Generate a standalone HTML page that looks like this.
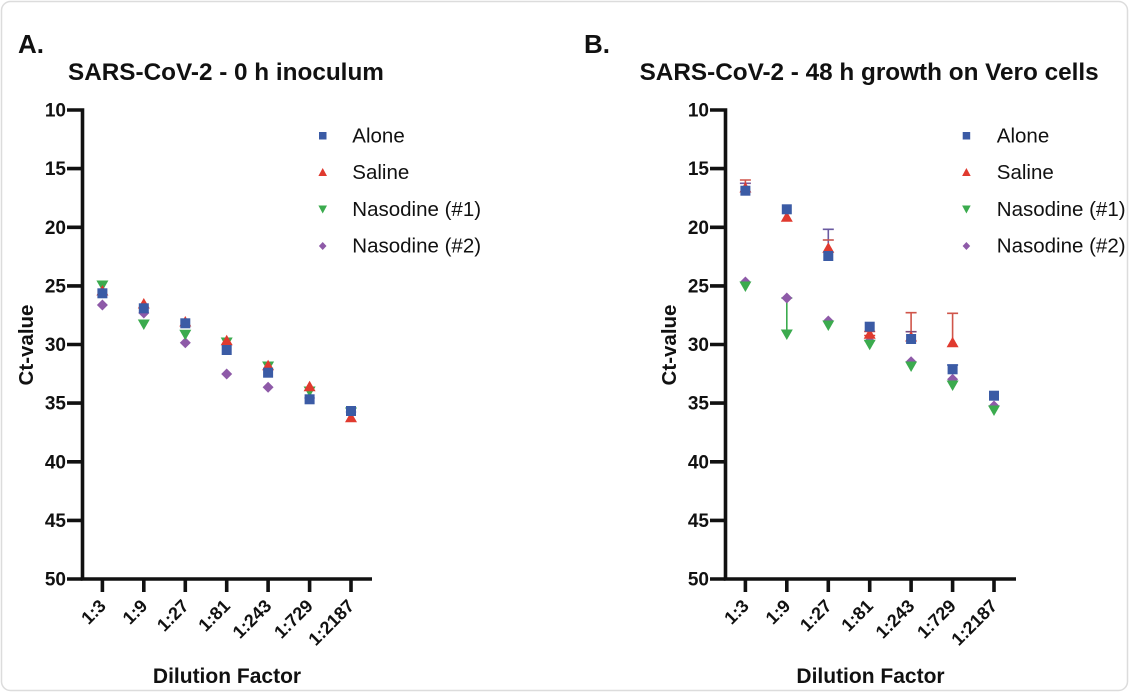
<!DOCTYPE html>
<html>
<head>
<meta charset="utf-8">
<style>
html,body{margin:0;padding:0;background:#fff;}
svg{display:block;}
text{font-family:"Liberation Sans",Arial,sans-serif;fill:#111;}
.b{font-weight:bold;}
</style>
</head>
<body>
<svg width="1130" height="693" viewBox="0 0 1130 693" xmlns="http://www.w3.org/2000/svg">
<rect x="1.5" y="1.5" width="1126" height="689" rx="9" ry="9" fill="#fff" stroke="#dcdcdc" stroke-width="1.5"/>

<!-- ===== Panel A ===== -->
<text class="b" x="18" y="53" font-size="26">A.</text>
<text class="b" x="68" y="80" font-size="24.3">SARS-CoV-2 - 0 h inoculum</text>

<g stroke="#111" stroke-width="3.6" fill="none" stroke-linecap="butt">
  <path d="M67 110 H84.3 M82.5 110 V580.8 M82.5 579 H372"/>
  <path d="M67 168.6 H82.5 M67 227.3 H82.5 M67 285.9 H82.5 M67 344.5 H82.5 M67 403.1 H82.5 M67 461.8 H82.5 M67 520.4 H82.5 M67 579 H82.5"/>
  <path d="M102.4 579 V592 M143.8 579 V592 M185.3 579 V592 M226.7 579 V592 M268.1 579 V592 M309.6 579 V592 M351 579 V592"/>
</g>
<g class="b" font-size="19" text-anchor="end">
  <text class="b" x="66" y="116.5">10</text>
  <text class="b" x="66" y="175.1">15</text>
  <text class="b" x="66" y="233.8">20</text>
  <text class="b" x="66" y="292.4">25</text>
  <text class="b" x="66" y="351">30</text>
  <text class="b" x="66" y="409.6">35</text>
  <text class="b" x="66" y="468.3">40</text>
  <text class="b" x="66" y="526.9">45</text>
  <text class="b" x="66" y="585.5">50</text>
</g>
<g font-size="18" text-anchor="end">
  <text class="b" transform="translate(107,607) rotate(-45)">1:3</text>
  <text class="b" transform="translate(148.4,607) rotate(-45)">1:9</text>
  <text class="b" transform="translate(189.8,607) rotate(-45)">1:27</text>
  <text class="b" transform="translate(231.2,607) rotate(-45)">1:81</text>
  <text class="b" transform="translate(272.6,607) rotate(-45)">1:243</text>
  <text class="b" transform="translate(314,607) rotate(-45)">1:729</text>
  <text class="b" transform="translate(355.4,607) rotate(-45)">1:2187</text>
</g>
<text class="b" x="227" y="683" font-size="21" text-anchor="middle">Dilution Factor</text>
<text class="b" transform="translate(33,345) rotate(-90)" font-size="20.5" text-anchor="middle">Ct-value</text>

<!-- Legend A -->
<rect x="319" y="132" width="7.5" height="7.5" fill="#3b5ba5"/>
<polygon points="322.7,168 327,176 318.4,176" fill="#e03a2f"/>
<polygon points="318.4,205.5 327,205.5 322.7,213.5" fill="#3bab4e"/>
<polygon points="322.7,242 326.5,246 322.7,250 318.9,246" fill="#8e5aa8"/>
<g font-size="20.5">
  <text x="352.3" y="142.7">Alone</text>
  <text x="352.3" y="179">Saline</text>
  <text x="352.3" y="216">Nasodine (#1)</text>
  <text x="352.3" y="252.7">Nasodine (#2)</text>
</g>

<!-- Data A: purple (diamonds) -->
<g fill="#8e5aa8">
  <polygon points="102.4,299.5 107.9,305 102.4,310.5 96.9,305"/>
  <polygon points="143.8,307.5 149.3,313 143.8,318.5 138.3,313"/>
  <polygon points="185.3,337.2 190.8,342.7 185.3,348.2 179.8,342.7"/>
  <polygon points="226.7,368.5 232.2,374 226.7,379.5 221.2,374"/>
  <polygon points="268.1,381.8 273.6,387.3 268.1,392.8 262.6,387.3"/>
  <polygon points="309.6,392.5 315.1,398 309.6,403.5 304.1,398"/>
  <polygon points="351,406.5 356.5,412 351,417.5 345.5,412"/>
</g>
<!-- green (down triangles) -->
<g fill="#3bab4e">
  <polygon points="96.4,280.5 108.4,280.5 102.4,291"/>
  <polygon points="137.8,319.5 149.8,319.5 143.8,330"/>
  <polygon points="179.3,329.8 191.3,329.8 185.3,340.3"/>
  <polygon points="220.7,337.5 232.7,337.5 226.7,348"/>
  <polygon points="262.1,361.5 274.1,361.5 268.1,372"/>
  <polygon points="303.6,386.5 315.6,386.5 309.6,397"/>
  <polygon points="345,407.5 357,407.5 351,418"/>
</g>
<!-- red (up triangles) -->
<g fill="#e03a2f">
  <polygon points="102.4,285 108.4,295.5 96.4,295.5"/>
  <polygon points="143.8,298 149.8,308.5 137.8,308.5"/>
  <polygon points="185.3,316 191.3,326.5 179.3,326.5"/>
  <polygon points="226.7,334.7 232.7,345.2 220.7,345.2"/>
  <polygon points="268.1,359.7 274.1,370.2 262.1,370.2"/>
  <polygon points="309.6,380.7 315.6,391.2 303.6,391.2"/>
  <polygon points="351,411.7 357,422.2 345,422.2"/>
</g>
<!-- blue (squares) -->
<g fill="#3b5ba5">
  <rect x="97.4" y="288.3" width="10" height="10"/>
  <rect x="138.8" y="303.3" width="10" height="10"/>
  <rect x="180.3" y="318.3" width="10" height="10"/>
  <rect x="221.7" y="345" width="10" height="10"/>
  <rect x="263.1" y="367.7" width="10" height="10"/>
  <rect x="304.6" y="394.3" width="10" height="10"/>
  <rect x="346" y="406" width="10" height="10"/>
</g>

<!-- ===== Panel B ===== -->
<text class="b" x="584" y="53" font-size="26">B.</text>
<text class="b" x="639.6" y="80" font-size="24.3">SARS-CoV-2 - 48 h growth on Vero cells</text>

<g stroke="#111" stroke-width="3.6" fill="none">
  <path d="M710 110 H727.3 M725.5 110 V580.8 M725.5 579 H1016"/>
  <path d="M710 168.6 H725.5 M710 227.3 H725.5 M710 285.9 H725.5 M710 344.5 H725.5 M710 403.1 H725.5 M710 461.8 H725.5 M710 520.4 H725.5 M710 579 H725.5"/>
  <path d="M745.4 579 V592 M786.8 579 V592 M828.3 579 V592 M869.7 579 V592 M911.1 579 V592 M952.6 579 V592 M994 579 V592"/>
</g>
<g font-size="19" text-anchor="end">
  <text class="b" x="709" y="116.5">10</text>
  <text class="b" x="709" y="175.1">15</text>
  <text class="b" x="709" y="233.8">20</text>
  <text class="b" x="709" y="292.4">25</text>
  <text class="b" x="709" y="351">30</text>
  <text class="b" x="709" y="409.6">35</text>
  <text class="b" x="709" y="468.3">40</text>
  <text class="b" x="709" y="526.9">45</text>
  <text class="b" x="709" y="585.5">50</text>
</g>
<g font-size="18" text-anchor="end">
  <text class="b" transform="translate(750,607) rotate(-45)">1:3</text>
  <text class="b" transform="translate(791.4,607) rotate(-45)">1:9</text>
  <text class="b" transform="translate(832.8,607) rotate(-45)">1:27</text>
  <text class="b" transform="translate(874.2,607) rotate(-45)">1:81</text>
  <text class="b" transform="translate(915.6,607) rotate(-45)">1:243</text>
  <text class="b" transform="translate(957,607) rotate(-45)">1:729</text>
  <text class="b" transform="translate(998.4,607) rotate(-45)">1:2187</text>
</g>
<text class="b" x="870.5" y="683" font-size="21" text-anchor="middle">Dilution Factor</text>
<text class="b" transform="translate(676,345) rotate(-90)" font-size="20.5" text-anchor="middle">Ct-value</text>

<!-- Legend B -->
<rect x="962.7" y="132" width="7.5" height="7.5" fill="#3b5ba5"/>
<polygon points="966.4,168 970.7,176 962.1,176" fill="#e03a2f"/>
<polygon points="962.1,205.5 970.7,205.5 966.4,213.5" fill="#3bab4e"/>
<polygon points="966.4,242 970.2,246 966.4,250 962.6,246" fill="#8e5aa8"/>
<g font-size="20.5">
  <text x="996.8" y="142.7">Alone</text>
  <text x="996.8" y="179">Saline</text>
  <text x="996.8" y="216">Nasodine (#1)</text>
  <text x="996.8" y="252.7">Nasodine (#2)</text>
</g>

<!-- Error bars B -->
<g stroke-width="1.6" fill="none">
  <!-- i0 -->
  <path d="M745.4 180 V190 M739.9 180 H750.9" stroke="#d0554a"/>
  <path d="M739.9 183.3 H750.9" stroke="#7a5a9a"/>
  <!-- i1 green -->
  <path d="M786.8 298 V334 M781.3 298 H792.3" stroke="#3bab4e"/>
  <!-- i2 -->
  <path d="M828.3 229.3 V256 M822.8 229.3 H833.8" stroke="#6a5aa0"/>
  <path d="M822.8 240 H833.8" stroke="#c8554f"/>
  <!-- i3 -->
  <path d="M864.2 331.5 H875.2 M864.2 335.5 H875.2" stroke="#e03a2f"/>
  <!-- i4 -->
  <path d="M911.1 312.7 V336 M905.6 312.7 H916.6" stroke="#d0554a"/>
  <path d="M905.6 331.7 H916.6" stroke="#7a4a7a"/>
  <!-- i5 -->
  <path d="M952.6 313.3 V342 M947.1 313.3 H958.1" stroke="#d0554a"/>
  <path d="M947.1 365 H958.1" stroke="#3b5ba5"/>
</g>

<!-- Data B: purple -->
<g fill="#8e5aa8">
  <polygon points="745.4,276.5 750.9,282 745.4,287.5 739.9,282"/>
  <polygon points="786.8,292.5 792.3,298 786.8,303.5 781.3,298"/>
  <polygon points="828.3,315.5 833.8,321 828.3,326.5 822.8,321"/>
  <polygon points="869.7,335.5 875.2,341 869.7,346.5 864.2,341"/>
  <polygon points="911.1,356.2 916.6,361.7 911.1,367.2 905.6,361.7"/>
  <polygon points="952.6,373.8 958.1,379.3 952.6,384.8 947.1,379.3"/>
  <polygon points="994,400.5 999.5,406 994,411.5 988.5,406"/>
</g>
<!-- green -->
<g fill="#3bab4e">
  <polygon points="739.4,281.5 751.4,281.5 745.4,292"/>
  <polygon points="780.8,329.5 792.8,329.5 786.8,340"/>
  <polygon points="822.3,320.5 834.3,320.5 828.3,331"/>
  <polygon points="863.7,339.8 875.7,339.8 869.7,350.3"/>
  <polygon points="905.1,361.5 917.1,361.5 911.1,372"/>
  <polygon points="946.6,380.5 958.6,380.5 952.6,391"/>
  <polygon points="988,405.5 1000,405.5 994,416"/>
</g>
<!-- red -->
<g fill="#e03a2f">
  <polygon points="745.4,182 751.4,192.5 739.4,192.5"/>
  <polygon points="786.8,211.3 792.8,221.8 780.8,221.8"/>
  <polygon points="828.3,242.3 834.3,252.8 822.3,252.8"/>
  <polygon points="869.7,328.3 875.7,338.8 863.7,338.8"/>
  <polygon points="911.1,331 917.1,341.5 905.1,341.5"/>
  <polygon points="952.6,336.7 958.6,347.2 946.6,347.2"/>
</g>
<!-- blue -->
<g fill="#3b5ba5">
  <rect x="740.4" y="185.7" width="10" height="10"/>
  <rect x="781.8" y="204.3" width="10" height="10"/>
  <rect x="823.3" y="251" width="10" height="10"/>
  <rect x="864.7" y="321.7" width="10" height="10"/>
  <rect x="906.1" y="334" width="10" height="10"/>
  <rect x="947.6" y="364.3" width="10" height="10"/>
  <rect x="989" y="390.7" width="10" height="10"/>
</g>
</svg>
</body>
</html>
